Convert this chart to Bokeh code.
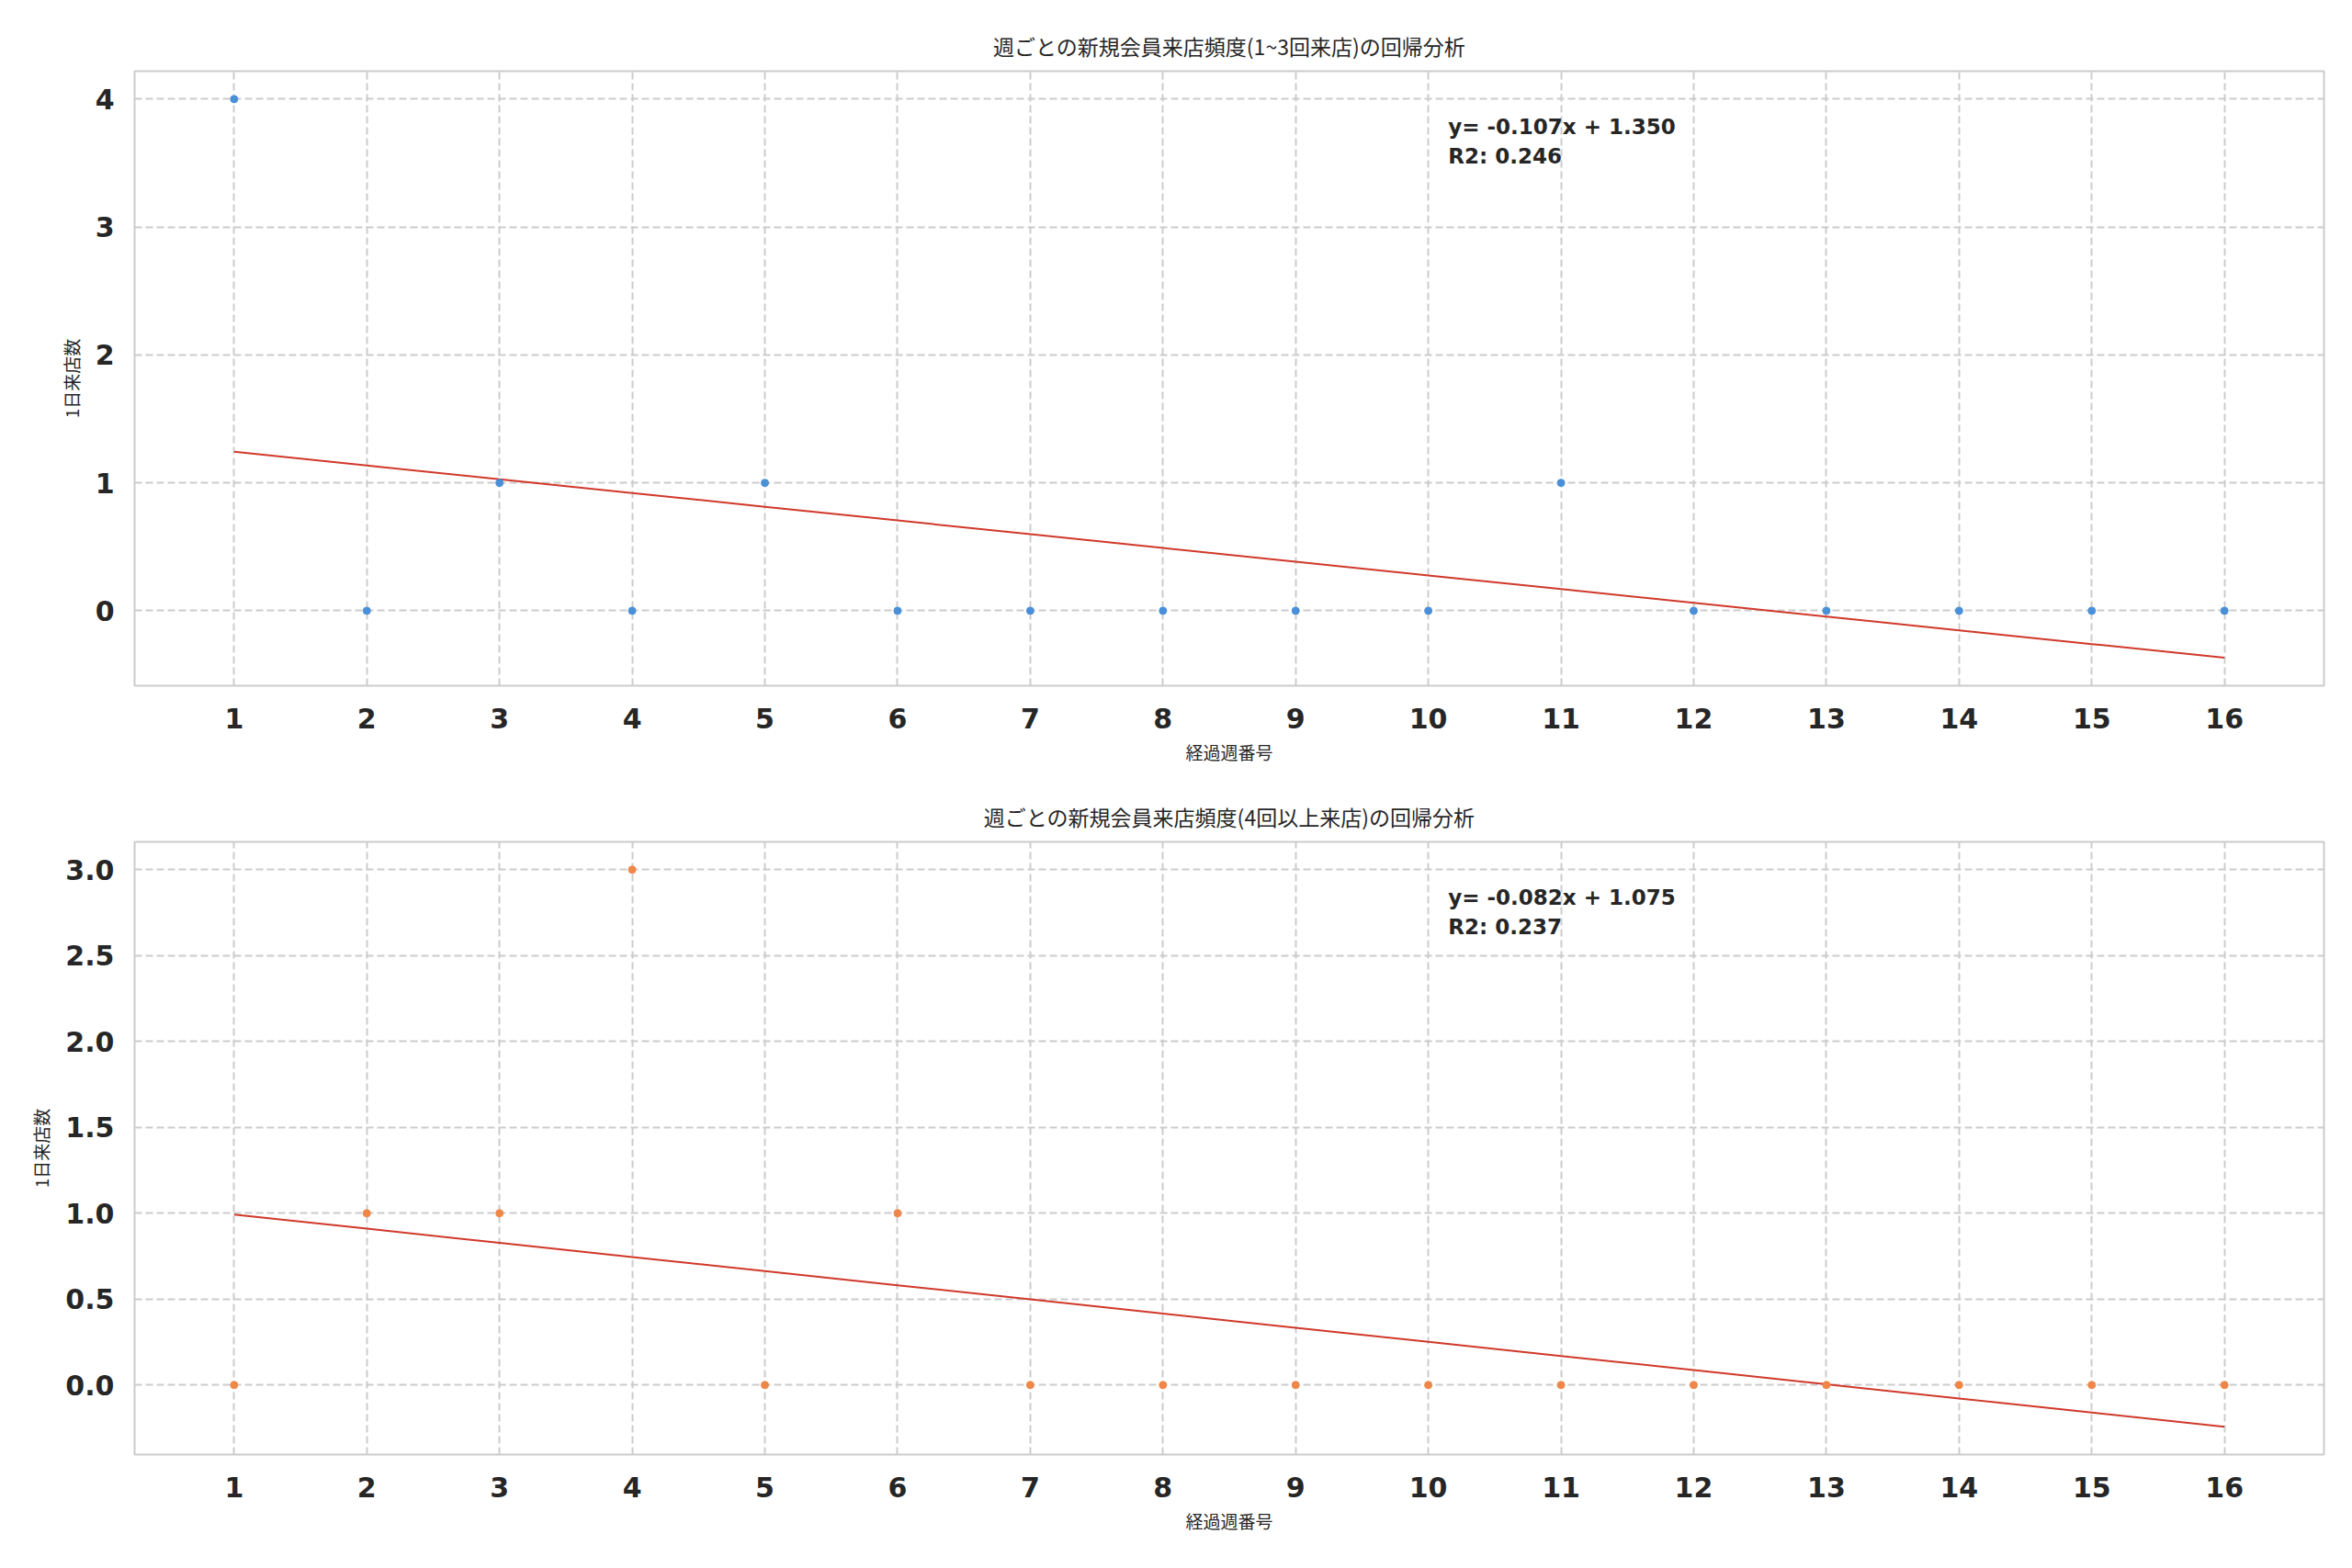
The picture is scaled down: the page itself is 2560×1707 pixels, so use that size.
import numpy as np
from bokeh.plotting import figure
from bokeh.models import Range1d, FixedTicker, Label, NumeralTickFormatter
from bokeh.layouts import column
from bokeh.embed import file_html
from bokeh.resources import INLINE

# ---- data ----
weeks = list(range(1, 17))
group_a = [4, 0, 1, 0, 1, 0, 0, 0, 0, 0, 1, 0, 0, 0, 0, 0]   # 1~3回来店
group_b = [0, 1, 1, 3, 0, 1, 0, 0, 0, 0, 0, 0, 0, 0, 0, 0]   # 4回以上来店
titles = ["週ごとの新規会員来店頻度(1~3回来店)の回帰分析",
          "週ごとの新規会員来店頻度(4回以上来店)の回帰分析"]
x_label = "経過週番号"
y_label = "1日来店数"
y_ticks_a = [0, 1, 2, 3, 4]
y_ticks_b = [0.0, 0.5, 1.0, 1.5, 2.0, 2.5, 3.0]
point_colors = ["#4a90d9", "#ef8749"]
line_color = "#d0392b"

TEXT = "#262626"
GRID = "#cccccc"


def make_panel(y, title, yticks, fmt, pcolor, height, border_top, border_bottom):
    x = np.array(weeks, dtype=float)
    yv = np.array(y, dtype=float)
    slope, intercept = np.polyfit(x, yv, 1)
    fit = slope * x + intercept
    r2 = np.corrcoef(x, yv)[0, 1] ** 2

    lo = min(yv.min(), fit.min())
    hi = max(yv.max(), fit.max())
    ym = 0.05 * (hi - lo)
    xm = 0.05 * (x.max() - x.min())
    y0, y1 = lo - ym, hi + ym

    p = figure(width=2560, height=height, output_backend="svg", toolbar_location=None,
               x_range=Range1d(x.min() - xm, x.max() + xm), y_range=Range1d(y0, y1),
               min_border_left=146, min_border_right=31,
               min_border_top=border_top, min_border_bottom=border_bottom)
    p.title.text = title
    p.title.align = "center"
    p.title.text_font = "Noto Sans CJK JP"
    p.title.text_font_size = "23px"
    p.title.text_font_style = "normal"
    p.title.text_color = TEXT
    p.title.standoff = 22

    p.outline_line_color = GRID
    p.outline_line_width = 2
    p.background_fill_color = "white"
    p.border_fill_color = "white"

    for g in (p.xgrid, p.ygrid):
        g.grid_line_color = GRID
        g.grid_line_width = 2
        g.grid_line_dash = "8 4"

    p.xaxis.ticker = FixedTicker(ticks=weeks)
    p.yaxis.ticker = FixedTicker(ticks=yticks)
    p.yaxis.formatter = NumeralTickFormatter(format=fmt)
    for ax in (p.xaxis, p.yaxis):
        ax.axis_line_color = None
        ax.major_tick_line_color = None
        ax.minor_tick_line_color = None
        ax.major_tick_out = 0
        ax.major_tick_in = 0
        ax.minor_tick_out = 0
        ax.major_label_text_font = "DejaVu Sans"
        ax.major_label_text_font_style = "bold"
        ax.major_label_text_font_size = "30px"
        ax.major_label_text_color = TEXT
        ax.axis_label_text_font = "Noto Sans CJK JP"
        ax.axis_label_text_font_style = "normal"
        ax.axis_label_text_font_size = "19px"
        ax.axis_label_text_color = TEXT
    p.xaxis.axis_label = x_label
    p.yaxis.axis_label = y_label
    p.xaxis.major_label_standoff = 24
    p.xaxis.axis_label_standoff = 9
    p.yaxis.major_label_standoff = 22
    p.yaxis.axis_label_standoff = 10

    p.line(x, fit, line_color=line_color, line_width=2)
    p.scatter(x, yv, size=8, fill_color=pcolor, line_color=pcolor)

    tx = (x.min() - xm) + 0.6 * ((x.max() + xm) - (x.min() - xm))
    eq = f"y= {slope:.3f}x + {intercept:.3f}"
    r2t = f"R2: {r2:.3f}"
    for txt, frac in ((eq, 0.910), (r2t, 0.861)):
        p.add_layout(Label(x=tx, y=y0 + frac * (y1 - y0), text=txt,
                           text_font="DejaVu Sans", text_font_style="bold",
                           text_font_size="23px", text_color=TEXT,
                           text_baseline="alphabetic", text_align="left"))
    return p


p1 = make_panel(group_a, titles[0], y_ticks_a, "0", point_colors[0], 850, 77, 104)
p2 = make_panel(group_b, titles[1], y_ticks_b, "0.0", point_colors[1], 857, 66, 124)

layout = column(p1, p2, spacing=0)
open("out.html", "w").write(file_html(layout, INLINE))
